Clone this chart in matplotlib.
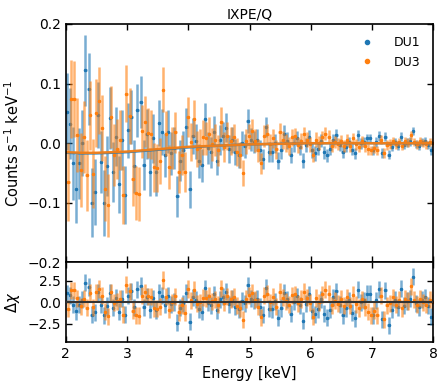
import numpy as np
import matplotlib
matplotlib.use("Agg")
import matplotlib.pyplot as plt
from matplotlib.lines import Line2D

# ---------------- data ----------------
title = "IXPE/Q"
labels = ["DU1", "DU3"]
colors = ["#1f77b4", "#ff7f0e"]

# bin centres (keV), 0.05 keV bins
energy_du1 = np.arange(120) * 0.05 + 2.02
energy_du3 = np.arange(120) * 0.05 + 2.04
bin_halfwidth = 0.02

q_du1 = [
    0.053, 0.033, -0.034, -0.076, -0.034, 0.0, 0.122, 0.091, -0.10, -0.082,
    0.047, -0.031, -0.10, -0.038, 0.043, -0.048, 0.011, -0.069, 0.005, -0.087,
    0.022, 0.044, -0.039, 0.055, 0.069, -0.037, 0.015, -0.048, 0.008, -0.048,
    0.034, 0.019, -0.02, 0.019, -0.017, -0.008, -0.089, -0.029, -0.012, 0.027,
    -0.077, 0.012, 0.003, -0.030, -0.037, 0.040, -0.008, -0.015, 0.019, -0.029,
    0.005, 0.012, 0.026, -0.01, 0.005, -0.015, -0.02, 0.0, -0.005, 0.037,
    0.006, 0.002, 0.005, -0.012, -0.027, 0.027, -0.015, -0.015, 0.0, -0.029,
    -0.011, 0.016, 0.004, -0.02, 0.0, 0.008, -0.006, -0.029, -0.003, 0.01,
    -0.012, -0.017, -0.009, 0.004, -0.015, -0.02, -0.009, 0.006, 0.013, -0.003,
    -0.015, -0.006, 0.002, -0.011, -0.017, 0.013, 0.0, 0.002, 0.008, 0.008,
    -0.012, 0.002, 0.012, -0.016, 0.011, -0.019, -0.006, 0.002, -0.004, 0.011,
    -0.003, 0.001, 0.003, 0.021, -0.001, -0.004, 0.002, 0.004, -0.003, -0.012,
]
err_du1 = [
    0.065, 0.06, 0.062, 0.058, 0.06, 0.055, 0.06, 0.06, 0.058, 0.055,
    0.055, 0.052, 0.055, 0.05, 0.052, 0.05, 0.05, 0.048, 0.05, 0.048,
    0.046, 0.045, 0.044, 0.045, 0.043, 0.042, 0.042, 0.04, 0.041, 0.04,
    0.038, 0.038, 0.037, 0.036, 0.036, 0.035, 0.034, 0.034, 0.033, 0.032,
    0.031, 0.03, 0.03, 0.029, 0.028, 0.028, 0.027, 0.026, 0.026, 0.025,
    0.025, 0.024, 0.024, 0.023, 0.022, 0.022, 0.021, 0.021, 0.02, 0.02,
    0.019, 0.019, 0.018, 0.018, 0.017, 0.017, 0.017, 0.016, 0.016, 0.015,
    0.015, 0.015, 0.014, 0.014, 0.014, 0.013, 0.013, 0.013, 0.012, 0.012,
    0.012, 0.012, 0.011, 0.011, 0.011, 0.011, 0.010, 0.010, 0.010, 0.010,
    0.010, 0.009, 0.009, 0.009, 0.009, 0.009, 0.009, 0.008, 0.008, 0.008,
    0.008, 0.008, 0.008, 0.008, 0.008, 0.007, 0.007, 0.007, 0.007, 0.007,
    0.007, 0.007, 0.007, 0.007, 0.007, 0.007, 0.007, 0.007, 0.007, 0.007,
]
resid_du1 = [
    1.06, 0.82, -0.29, -1.03, -0.3, 0.29, 2.3, 1.78, -1.45, -1.2,
    1.15, -0.29, -1.53, -0.44, 1.13, -0.64, 0.54, -1.1, 0.42, -1.48,
    0.78, 1.29, -0.57, 1.53, 1.9, -0.6, 0.64, -0.9, 0.46, -0.95,
    1.16, 0.76, -0.27, 0.78, -0.22, 0.03, -2.38, -0.62, -0.12, 1.09,
    -2.29, 0.6, 0.3, -0.83, -1.11, 1.64, -0.07, -0.38, 0.92, -0.96,
    0.36, 0.67, 1.25, -0.26, 0.41, -0.5, -0.81, 0.14, -0.1, 2.0,
    0.42, 0.21, 0.39, -0.56, -1.47, 1.7, -0.76, -0.81, 0.12, -1.8,
    -0.67, 1.13, 0.36, -1.36, 0.07, 0.69, -0.38, -2.15, -0.17, 0.92,
    -1.0, -1.42, -0.82, 0.36, -1.36, -1.82, -0.9, 0.6, 1.3, -0.3,
    -1.5, -0.67, 0.22, -1.22, -1.89, 1.44, 0.0, 0.25, 1.0, 1.0,
    -1.5, 0.25, 1.5, -2.0, 1.38, -2.71, -0.86, 0.29, -0.57, 1.57,
    -0.43, 0.14, 0.43, 3.0, -0.14, -0.57, 0.29, 0.57, -0.43, -1.71,
]

q_du3 = [
    -0.065, 0.074, 0.074, 0.013, -0.045, 0.01, -0.054, 0.047, -0.051, 0.05,
    0.071, 0.025, -0.076, -0.104, 0.044, -0.02, -0.01, 0.005, -0.087, 0.083,
    0.045, -0.06, -0.083, -0.085, 0.02, 0.036, 0.017, 0.015, -0.04, -0.041,
    -0.03, 0.09, 0.016, -0.04, -0.008, 0.018, -0.048, -0.02, -0.048, 0.044,
    0.002, 0.041, -0.01, -0.006, 0.01, 0.008, 0.016, -0.002, 0.005, -0.012,
    0.036, -0.007, 0.012, 0.004, 0.01, -0.015, -0.02, -0.05, 0.003, 0.012,
    0.02, 0.004, -0.012, -0.034, 0.012, 0.015, -0.002, 0.008, -0.01, 0.018,
    0.006, 0.0, -0.005, 0.01, 0.012, -0.003, 0.004, 0.015, 0.006, -0.002,
    -0.02, 0.006, 0.0, 0.01, 0.016, 0.011, -0.004, 0.002, -0.002, 0.004,
    -0.004, 0.006, -0.004, 0.008, -0.002, -0.006, 0.003, -0.005, -0.01, -0.012,
    -0.008, -0.012, 0.006, -0.016, -0.003, -0.001, 0.004, -0.002, 0.002, -0.005,
    0.003, 0.001, 0.013, 0.002, -0.002, 0.003, 0.0, -0.002, 0.002, 0.0,
]
err_du3 = [
    0.066, 0.065, 0.064, 0.062, 0.062, 0.06, 0.06, 0.058, 0.058, 0.057,
    0.056, 0.055, 0.054, 0.053, 0.052, 0.052, 0.05, 0.05, 0.049, 0.048,
    0.047, 0.046, 0.045, 0.045, 0.044, 0.043, 0.042, 0.041, 0.041, 0.04,
    0.039, 0.038, 0.038, 0.037, 0.036, 0.035, 0.035, 0.034, 0.033, 0.033,
    0.032, 0.031, 0.03, 0.03, 0.029, 0.028, 0.028, 0.027, 0.027, 0.026,
    0.025, 0.025, 0.024, 0.024, 0.023, 0.023, 0.022, 0.022, 0.021, 0.021,
    0.02, 0.019, 0.019, 0.018, 0.018, 0.017, 0.017, 0.016, 0.016, 0.016,
    0.015, 0.015, 0.015, 0.014, 0.014, 0.014, 0.013, 0.013, 0.013, 0.012,
    0.012, 0.012, 0.012, 0.011, 0.011, 0.011, 0.011, 0.01, 0.01, 0.01,
    0.01, 0.01, 0.01, 0.009, 0.009, 0.009, 0.009, 0.009, 0.009, 0.008,
    0.008, 0.008, 0.008, 0.008, 0.008, 0.008, 0.007, 0.007, 0.007, 0.007,
    0.007, 0.007, 0.007, 0.007, 0.007, 0.007, 0.007, 0.007, 0.007, 0.007,
]
resid_du3 = [
    -0.74, 1.38, 1.41, 0.47, -0.47, 0.43, -0.63, 1.09, -0.6, 1.16,
    1.55, 0.75, -1.11, -1.66, 1.15, -0.08, 0.12, 0.42, -1.45, 2.06,
    1.26, -1.0, -1.53, -1.58, 0.75, 1.14, 0.69, 0.63, -0.71, -0.78,
    -0.54, 2.6, 0.63, -0.86, 0.0, 0.71, -1.17, -0.38, -1.24, 1.55,
    0.22, 1.48, -0.17, -0.03, 0.52, 0.46, 0.75, 0.11, 0.37, -0.27,
    1.64, -0.08, 0.71, 0.38, 0.65, -0.43, -0.68, -2.05, 0.38, 0.81,
    1.1, 0.32, -0.53, -1.78, 0.78, 1.0, 0.0, 0.63, -0.5, 1.25,
    0.53, 0.13, -0.27, 0.79, 0.93, -0.14, 0.38, 1.23, 0.54, -0.08,
    -1.67, 0.5, 0.0, 0.91, 1.45, 1.0, -0.36, 0.2, -0.2, 0.4,
    -0.4, 0.6, -0.4, 0.89, -0.22, -0.67, 0.33, -0.56, -1.11, -1.5,
    -1.0, -1.5, 0.75, -2.0, -0.38, -0.13, 0.57, -0.29, 0.29, -0.71,
    0.43, 0.14, 1.86, 0.29, -0.29, 0.43, 0.0, -0.29, 0.29, 0.0,
]

# model curves
model_energy = [2.0, 2.25, 2.5, 2.75, 3.0, 3.25, 3.5, 3.75, 4.0, 4.5, 5.0, 5.5, 6.0, 7.0, 8.0]
model_du1 = [-0.016, -0.017, -0.017, -0.016, -0.015, -0.013, -0.011, -0.009, -0.007,
             -0.004, -0.002, -0.001, 0.0, 0.0, 0.0]
model_du3 = [-0.015, -0.016, -0.016, -0.015, -0.014, -0.012, -0.010, -0.008, -0.006,
             -0.004, -0.002, -0.001, 0.0, 0.0, 0.0]

# ---------------- figure ----------------
plt.rcParams['font.family'] = ['DejaVu Sans']
fig = plt.figure(figsize=(4.48, 3.86), dpi=100)
gs = fig.add_gridspec(2, 1, height_ratios=[3, 1], hspace=0,
                      left=0.147, right=0.967, top=0.938, bottom=0.114)
ax = fig.add_subplot(gs[0])
axr = fig.add_subplot(gs[1], sharex=ax)

series = [
    (energy_du1, q_du1, err_du1, resid_du1, model_du1),
    (energy_du3, q_du3, err_du3, resid_du3, model_du3),
]
for (e, q, er, rs, mdl), c in zip(series, colors):
    ax.errorbar(e, q, yerr=er, xerr=bin_halfwidth, fmt='none', ecolor=c,
                alpha=0.6, elinewidth=1.8)
    ax.plot(e, q, '.', color=c, ms=3)
    axr.errorbar(e, rs, yerr=1.0, xerr=bin_halfwidth, fmt='none', ecolor=c,
                 alpha=0.6, elinewidth=1.8)
    axr.plot(e, rs, '.', color=c, ms=3)
for mdl, c in zip([model_du1, model_du3], colors):
    ax.plot(model_energy, mdl, color=c, lw=1.8, alpha=0.9)

axr.axhline(0, color='#333333', lw=1.5, zorder=5)

ax.set_xlim(2, 8)
ax.set_ylim(-0.2, 0.2)
ax.set_yticks([-0.2, -0.1, 0.0, 0.1, 0.2])
axr.set_ylim(-4.65, 4.65)
axr.set_yticks([-2.5, 0.0, 2.5])
axr.set_xticks([2, 3, 4, 5, 6, 7, 8])

for a in (ax, axr):
    a.tick_params(direction='in', top=True, right=True, labelsize=10,
                  length=4, width=1)
    for s in a.spines.values():
        s.set_linewidth(1.2)
ax.tick_params(labelbottom=False)

ax.set_title(title, fontsize=10, pad=4)
ax.set_ylabel(r"Counts s$^{-1}$ keV$^{-1}$", fontsize=10.5)
axr.set_ylabel(r"$\Delta\chi$", fontsize=10.5)
axr.set_xlabel("Energy [keV]", fontsize=10.5)

handles = [Line2D([], [], ls='', marker='.', color=c, ms=6) for c in colors]
ax.legend(handles, labels, loc='upper right', frameon=False, fontsize=9,
          handletextpad=1.2, borderaxespad=0.6)

fig.align_ylabels([ax, axr])
fig.savefig("out.png", dpi=100)
